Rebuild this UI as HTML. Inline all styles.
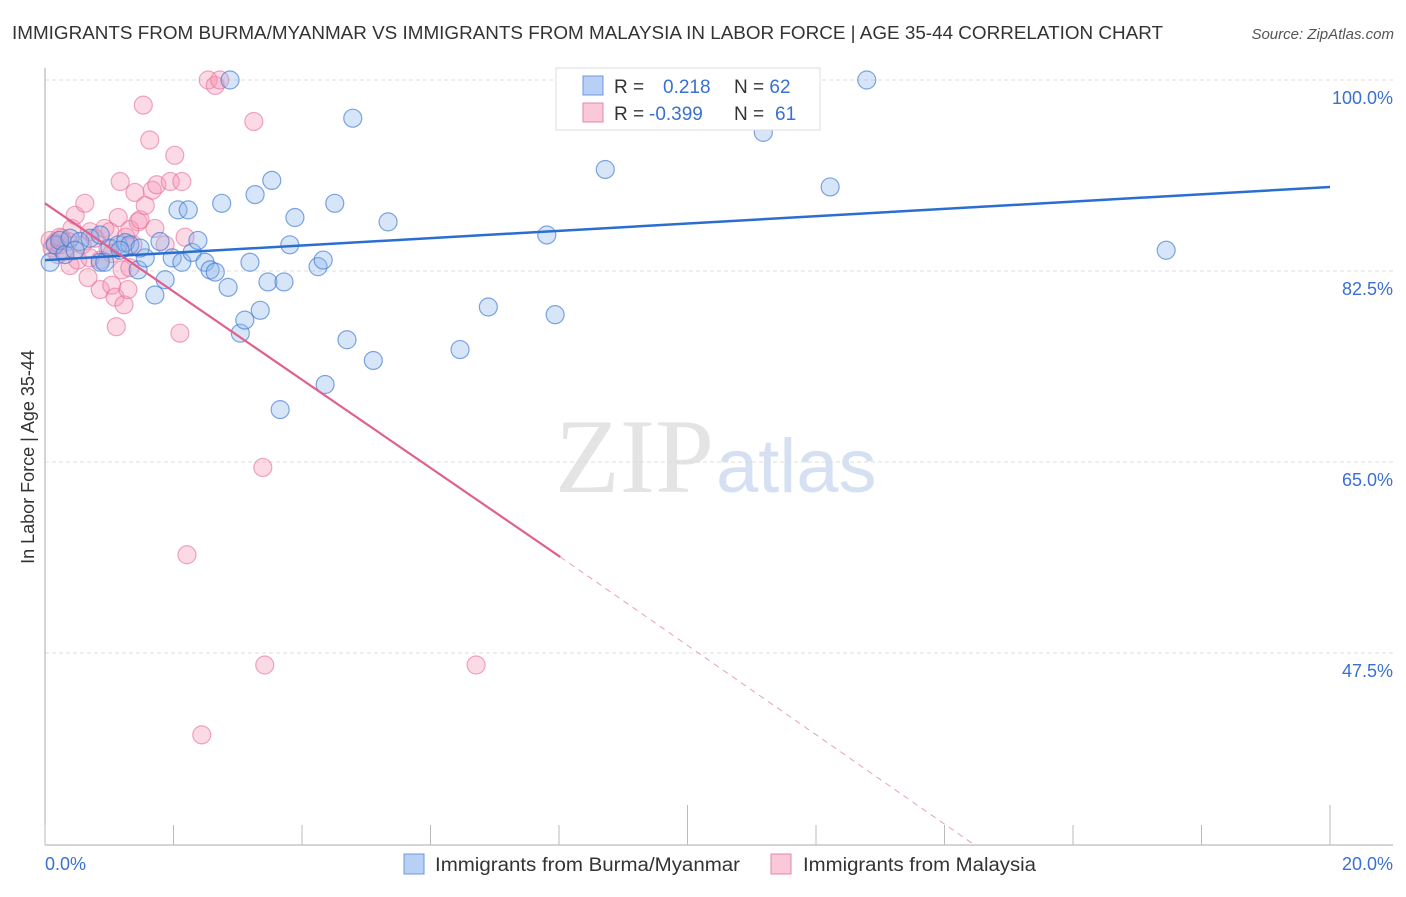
<!DOCTYPE html>
<html><head><meta charset="utf-8"><style>
body{margin:0;background:#fff;font-family:"Liberation Sans",sans-serif}
</style></head><body>
<svg width="1406" height="892" xmlns="http://www.w3.org/2000/svg">
<text x="12" y="39" font-size="18" fill="#333" textLength="1151" lengthAdjust="spacingAndGlyphs">IMMIGRANTS FROM BURMA/MYANMAR VS IMMIGRANTS FROM MALAYSIA IN LABOR FORCE | AGE 35-44 CORRELATION CHART</text>
<text x="1394" y="39" font-size="15" fill="#555" font-style="italic" text-anchor="end">Source: ZipAtlas.com</text>
<text x="555" y="492" font-size="106" fill="#e4e4e4" font-family="Liberation Serif">ZIP<tspan fill="#d5e1f2" font-family="Liberation Sans" font-size="76" dx="2">atlas</tspan></text>
<g id="grid"></g><g id="axes"></g><g id="pts"></g><g id="lines"></g>
<text transform="translate(34,457) rotate(-90)" font-size="18" fill="#333" text-anchor="middle">In Labor Force | Age 35-44</text>
<text x="45" y="870" font-size="18" fill="#3a70d0">0.0%</text>
<text x="1393" y="870" font-size="18" fill="#3a70d0" text-anchor="end">20.0%</text>
<g>
<rect x="404" y="854" width="20" height="20" fill="#b8d0f5" stroke="#6d98dc"/>
<text x="435" y="871" font-size="19" fill="#333" textLength="305" lengthAdjust="spacingAndGlyphs">Immigrants from Burma/Myanmar</text>
<rect x="771" y="854" width="20" height="20" fill="#fac8d8" stroke="#e08aa8"/>
<text x="803" y="871" font-size="19" fill="#333" textLength="233" lengthAdjust="spacingAndGlyphs">Immigrants from Malaysia</text>
</g>
<g>
<rect x="556" y="68" width="264" height="62" fill="#fff" stroke="#ddd"/>
<rect x="583" y="76" width="20" height="19" fill="#b8d0f5" stroke="#6d98dc"/>
<rect x="583" y="103" width="20" height="19" fill="#fac8d8" stroke="#e08aa8"/>
<text x="614" y="93" font-size="19" fill="#333">R = <tspan x="663" fill="#3a70d0">0.218</tspan><tspan x="734" fill="#333">N = </tspan><tspan fill="#3a70d0">62</tspan></text>
<text x="614" y="120" font-size="19" fill="#333">R = <tspan x="649" fill="#3a70d0">-0.399</tspan><tspan x="734" fill="#333">N = </tspan><tspan x="775" fill="#3a70d0">61</tspan></text>
</g>
</svg>
<script>
const blueX=[0.08,0.16,0.23,0.31,0.39,0.54,0.70,0.86,0.93,1.01,1.14,1.25,1.32,1.45,1.56,1.71,1.79,1.87,1.98,2.07,2.13,2.23,2.29,2.38,2.49,2.57,2.65,2.75,2.85,3.04,3.11,3.19,3.27,3.35,3.47,3.53,3.66,3.72,3.81,3.89,4.25,4.33,4.51,4.70,4.79,5.11,5.34,6.46,6.90,7.81,7.94,8.72,11.18,12.22,12.79,17.45,2.88,4.36,1.48,0.86,0.47,1.17];
const blueY=[83.3,84.9,85.3,84.0,85.5,85.2,85.5,83.3,83.3,84.6,84.9,85.1,84.9,82.6,83.7,80.3,85.2,81.7,83.7,88.1,83.3,88.1,84.2,85.3,83.3,82.6,82.4,88.7,81.0,76.8,78.0,83.3,89.5,78.9,81.5,90.8,69.8,81.5,84.9,87.4,82.9,83.5,88.7,76.2,96.5,74.3,87.0,75.3,79.2,85.8,78.5,91.8,95.2,90.2,100,84.4,100,72.1,84.6,85.8,84.4,84.4];
const pinkX=[0.08,0.11,0.16,0.20,0.23,0.26,0.31,0.36,0.39,0.42,0.47,0.51,0.58,0.62,0.67,0.70,0.78,0.86,0.93,0.98,1.01,1.04,1.09,1.11,1.14,1.17,1.20,1.23,1.26,1.29,1.32,1.37,1.40,1.45,1.48,1.53,1.56,1.63,1.67,1.71,1.74,1.87,1.95,2.02,2.10,2.13,2.18,2.21,2.44,2.54,2.65,2.72,3.25,3.39,3.42,6.71,0.86,1.04,1.32,0.23,0.70];
const pinkY=[85.3,84.6,85.1,84.0,84.9,85.5,84.4,85.2,83.0,86.4,87.6,83.5,84.9,88.7,81.9,86.1,85.5,80.8,86.4,84.6,86.1,81.2,80.1,77.4,87.4,90.7,82.6,79.4,85.6,80.8,86.3,84.9,89.7,87.0,87.2,97.7,88.5,94.5,89.9,86.4,90.4,84.9,90.7,93.1,76.8,90.7,85.6,56.5,40.0,100,99.5,100,96.2,64.5,46.4,46.4,83.5,84.1,82.8,85.6,83.7];
const blueFit=[83.5,90.2], pinkFit=[88.7,56.3], pinkEnd=[8.02,14.47,29.9];
const yTicks=[100,82.5,65,47.5], yLabels=["100.0%","82.5%","65.0%","47.5%"];
const xTicks=[0,2,4,6,8,10,12,14,16,18,20];
const NS="http://www.w3.org/2000/svg";
const sx=v=>45+v*64.25, sy=v=>80+(100-v)*191/17.5;
function mk(t,a,p){const e=document.createElementNS(NS,t);for(const k in a)e.setAttribute(k,a[k]);document.getElementById(p).appendChild(e);return e;}
yTicks.forEach((v,i)=>{
 const l=mk('line',{x1:45,x2:1393,y1:sy(v),y2:sy(v),stroke:'#ddd','stroke-dasharray':'4,3'},'grid');
 
 
 const t=mk('text',{x:1393,y:sy(v)+24,'font-size':18,fill:'#3a70d0','text-anchor':'end'},'grid');
 t.textContent=yLabels[i];
 
 
});
const ax=mk('line',{x1:45,x2:45,y1:68,y2:845,stroke:'#aaa'},'axes');


const bx=mk('line',{x1:45,x2:1393,y1:845,y2:845,stroke:'#aaa'},'axes');


xTicks.forEach(v=>{
 const t=mk('line',{x1:sx(v),x2:sx(v),y1:825,y2:845,stroke:'#bbb'},'axes');
 if(v===10||v===20)t.setAttribute('y1',805);
 
 
});
pinkX.forEach((x,i)=>{
 const c=mk('circle',{cx:sx(x),cy:sy(pinkY[i]),r:9,fill:'rgba(245,150,180,0.35)',stroke:'rgba(230,110,150,0.6)','stroke-width':1.2},'pts');
 
 
});
blueX.forEach((x,i)=>{
 const c=mk('circle',{cx:sx(x),cy:sy(blueY[i]),r:9,fill:'rgba(140,180,235,0.35)',stroke:'rgba(60,120,210,0.65)','stroke-width':1.2},'pts');
 
 
});
const b=mk('line',{x1:sx(0),y1:sy(blueFit[0]),x2:sx(20),y2:sy(blueFit[1]),stroke:'#2a6fd0','stroke-width':2.5},'lines');


const p=mk('line',{x1:sx(0),y1:sy(pinkFit[0]),x2:sx(pinkEnd[0]),y2:sy(pinkFit[1]),stroke:'#e0608e','stroke-width':2.2},'lines');


const pd=mk('line',{x1:sx(pinkEnd[0]),y1:sy(pinkFit[1]),x2:sx(pinkEnd[1]),y2:sy(pinkEnd[2]),stroke:'#e8a0b8','stroke-width':1,'stroke-dasharray':'6,5'},'lines');


</script>
</body></html>
